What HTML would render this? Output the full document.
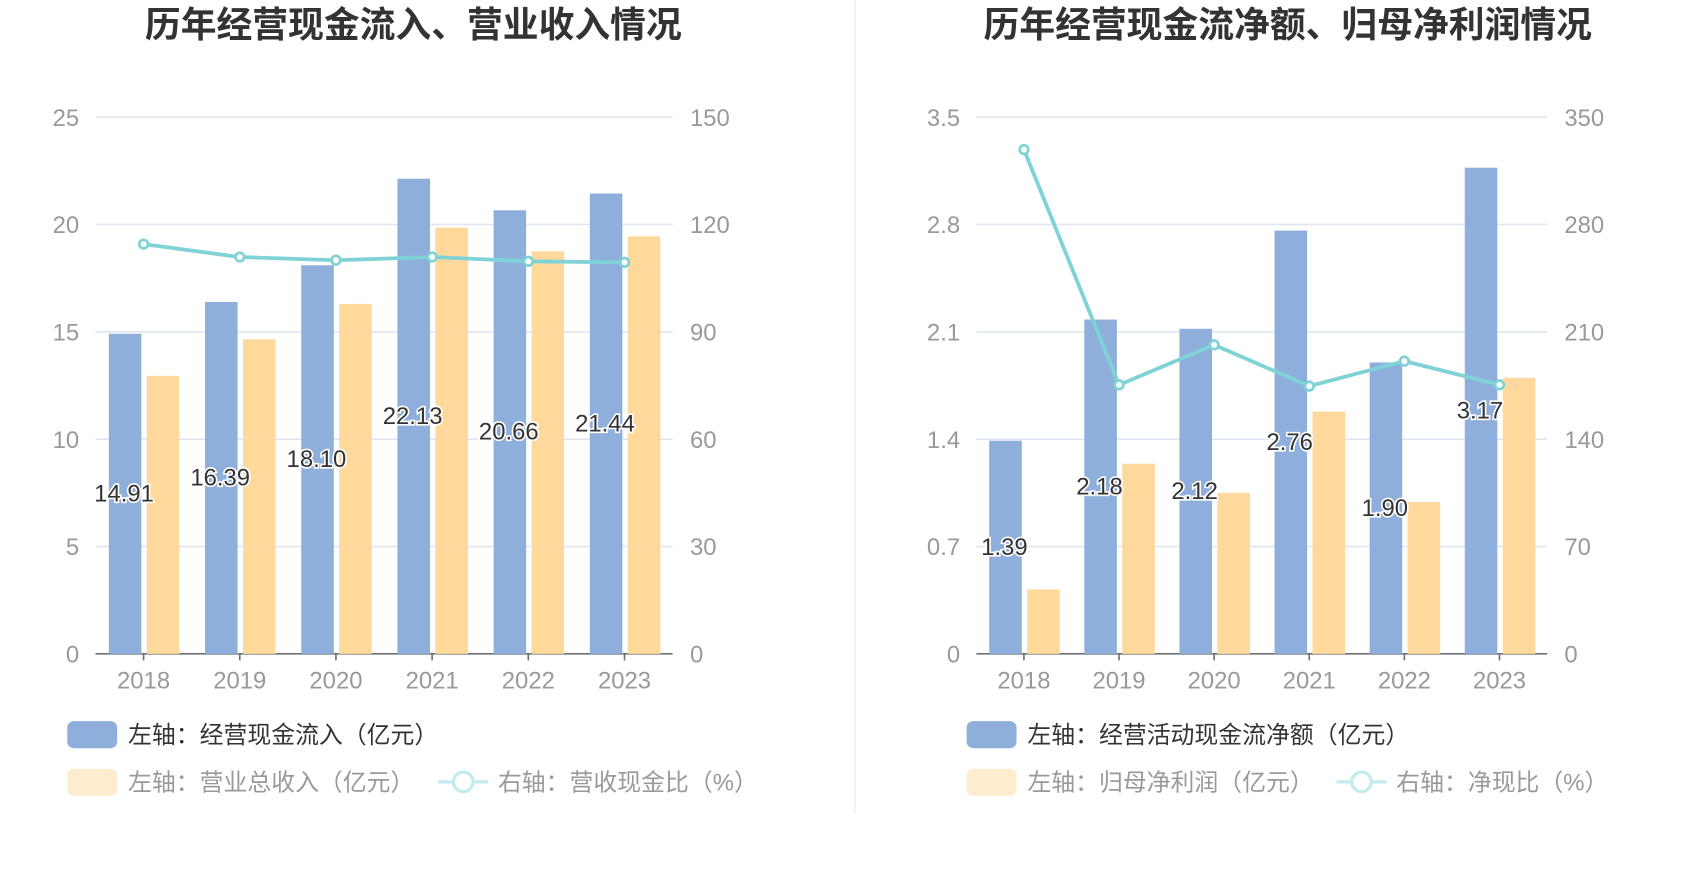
<!DOCTYPE html>
<html><head><meta charset="utf-8"><style>
html,body{margin:0;padding:0;background:#fff;}
svg{display:block;font-family:"Liberation Sans","Noto Sans CJK SC",sans-serif;}
</style></head><body>
<svg id="s" width="1700" height="874" viewBox="0 0 1567 806" preserveAspectRatio="none"></svg>
<script>
const years = ["2018","2019","2020","2021","2022","2023"];
const cashIn = [14.91,16.39,18.10,22.13,20.66,21.44];
const revenue = [12.95,14.65,16.3,19.85,18.75,19.45];
const cashRatio = [114.5,110.9,110.0,110.9,109.7,109.4];
const netCash = [1.39,2.18,2.12,2.76,1.90,3.17];
const netProfit = [0.42,1.24,1.05,1.58,0.99,1.80];
const netRatio = [328.8,175.4,201.5,174.6,190.9,175.4];
const leftTicks1 = [0,5,10,15,20,25];
const rightTicks1 = [0,30,60,90,120,150];
const leftTicks2 = ["0","0.7","1.4","2.1","2.8","3.5"];
const rightTicks2 = [0,70,140,210,280,350];

const NS="http://www.w3.org/2000/svg";
const svg=document.getElementById('s');
function el(t,a,p){const e=document.createElementNS(NS,t);for(const k in a)e.setAttribute(k,a[k]);(p||svg).appendChild(e);return e;}
function txt(s,a,p){const e=el('text',a,p);e.textContent=s;return e;}

function chart(o){
  const g=el('g',{});
  
  
  const t=txt(o.title,{x:o.cx,y:34,'text-anchor':'middle','font-size':33,'font-weight':'bold',fill:'#333'},g);
  
  
  const x0=o.x0,x1=o.x1,yTop=108,yBot=603;
  const ly=v=>yBot-(v/o.lmax)*(yBot-yTop);
  const ry=v=>yBot-(v/o.rmax)*(yBot-yTop);
  const step=(x1-x0)/years.length;
  const cx=i=>x0+step*(i+0.5);
  for(let i=0;i<o.lt.length;i++){
    const y=yBot-i*(yBot-yTop)/(o.lt.length-1);
    if(i>0){const gl=el('line',{x1:x0,x2:x1,y1:y,y2:y,stroke:'#e0e6f1','stroke-width':1.5},g);
      
      }
    const a=txt(String(o.lt[i]),{x:x0-15,y:y+8,'text-anchor':'end','font-size':22,fill:'#999'},g);
    
    
    const b=txt(String(o.rt[i]),{x:x1+16,y:y+8,'text-anchor':'start','font-size':22,fill:'#999'},g);
    
    
  }
  const ax=el('line',{x1:x0,x2:x1,y1:yBot,y2:yBot,stroke:'#6e7079','stroke-width':1.5},g);
  
  
  years.forEach((yr,i)=>{
    const tk=el('line',{x1:cx(i),x2:cx(i),y1:yBot,y2:yBot+6,stroke:'#6e7079','stroke-width':1.5},g);
    
    
    const l=txt(yr,{x:cx(i),y:yBot+32,'text-anchor':'middle','font-size':22,fill:'#999'},g);
    
    
    const bh=ly(o.blue[i]);
    const b=el('rect',{x:cx(i)-32,y:bh,width:30,height:yBot-bh,fill:'#8eaedb'},g);
    
    
    const oh=ly(o.orange[i]);
    const r=el('rect',{x:cx(i)+3,y:oh,width:30,height:yBot-oh,fill:'#fed99b'},g);
    
    
  });
  const pts=o.line.map((v,i)=>cx(i)+','+ry(v)).join(' ');
  const pl=el('polyline',{points:pts,fill:'none',stroke:'#7fd3d6','stroke-width':3.5},g);
  
  
  o.line.forEach((v,i)=>{
    const c=el('circle',{cx:cx(i),cy:ry(v),r:4,fill:'#fff',stroke:'#7fd3d6','stroke-width':2.5},g);
    
    
  });
  years.forEach((yr,i)=>{
    const y=(ly(o.blue[i])+yBot)/2+7;
    const lb=txt(o.fmt(o.blue[i]),{x:cx(i)-18,y:y,'text-anchor':'middle','font-size':22,fill:'#333',stroke:'#fff','stroke-width':3,'paint-order':'stroke'},g);
    
    
  });
  const lx=o.legX;
  const r1=el('rect',{x:lx,y:665,width:46,height:25,rx:6,fill:'#8eaedb'},g);
  
  
  const t1=txt(o.leg1,{x:lx+56,y:685,'font-size':22,fill:'#333'},g);
  
  
  const r2=el('rect',{x:lx,y:709,width:46,height:25,rx:6,fill:'#feecce'},g);
  
  
  const t2=txt(o.leg2,{x:lx+56,y:729,'font-size':22,fill:'#999'},g);
  
  
  const l3=el('line',{x1:o.leg3X,x2:o.leg3X+46,y1:721,y2:721,stroke:'#c2ecee','stroke-width':3},g);
  
  
  const c3=el('circle',{cx:o.leg3X+23,cy:721,r:9,fill:'#fff',stroke:'#c2ecee','stroke-width':3},g);
  
  
  const t3=txt(o.leg3,{x:o.leg3X+55,y:729,'font-size':22,fill:'#999'},g);
  
  
}
chart({name:'cash-inflow-chart',title:'历年经营现金流入、营业收入情况',cx:381,x0:88,x1:620,lmax:25,rmax:150,lt:leftTicks1,rt:rightTicks1,
  blue:cashIn,orange:revenue,line:cashRatio,fmt:v=>v.toFixed(2),legX:62,leg3X:404,
  leg1:'左轴：经营现金流入（亿元）',leg2:'左轴：营业总收入（亿元）',leg3:'右轴：营收现金比（%）'});
chart({name:'net-cash-chart',title:'历年经营现金流净额、归母净利润情况',cx:1187,x0:900,x1:1426,lmax:3.5,rmax:350,lt:leftTicks2,rt:rightTicks2,
  blue:netCash,orange:netProfit,line:netRatio,fmt:v=>v.toFixed(2),legX:891,leg3X:1232,
  leg1:'左轴：经营活动现金流净额（亿元）',leg2:'左轴：归母净利润（亿元）',leg3:'右轴：净现比（%）'});
const d=el('line',{x1:788,x2:788,y1:0,y2:750,stroke:'#eeeeee','stroke-width':1.5});


</script>
</body></html>
